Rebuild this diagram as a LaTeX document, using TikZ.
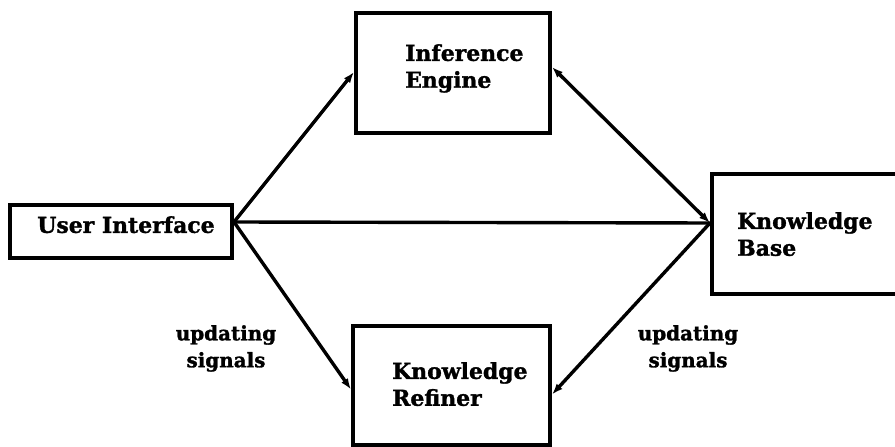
\documentclass[tikz,border=0pt]{standalone}
\usepackage{fontspec}
\setmainfont{DejaVu Serif}
\newfontfamily\heavyserif{DejaVu Serif Bold}[FakeBold=1.4]
\usetikzlibrary{arrows.meta}
\tikzset{
  unit/.style={x=1bp,y=-1bp},
  box/.style={draw=black,line width=4bp,inner sep=0pt,fill=none},
  boxtext/.style={inner sep=0pt,align=left,font=\heavyserif\fontsize{22}{27}\selectfont},
  sigtext/.style={inner sep=0pt,align=center,font=\heavyserif\fontsize{20}{27}\selectfont},
  link/.style={line width=3.4bp,line cap=round},
  tip/.style={-{Latex[length=11bp,width=8bp]}},
  twotip/.style={{Latex[length=11bp,width=8bp]}-{Latex[length=11bp,width=8bp]}},
}
\begin{document}
\begin{tikzpicture}[unit]
\useasboundingbox (0,0) rectangle (895,447);
\fill[white] (0,0) rectangle (895,447);

% component boxes
\node[box,minimum width=222bp,minimum height=53bp] (ui) at (121,231.5) {};
\node[box,minimum width=194bp,minimum height=120bp] (ie) at (453,73) {};
\node[box,minimum width=197bp,minimum height=119bp] (kr) at (451.5,385.5) {};
\node[box,minimum width=200bp,minimum height=120bp] (kb) at (812,234) {};

% box captions
\node[boxtext,anchor=north] (uiT) at (126,216) {User Interface};
\node[boxtext,anchor=north west] (ieT) at (405,44) {Inference\\Engine};
\node[boxtext,anchor=north west] (krT) at (392,362) {Knowledge\\Refiner};
\node[boxtext,anchor=north west] (kbT) at (737,212) {Knowledge\\Base};

% connection ports
\coordinate (uiP) at ([yshift=9.5bp]ui.east);
\coordinate (ieL) at ([yshift=1bp]ie.west);
\coordinate (ieR) at ([yshift=6bp]ie.east);
\coordinate (kbP) at ([yshift=11bp]kb.west);
\coordinate (krL) at ([yshift=-4bp]kr.west);
\coordinate (krR) at ([yshift=-9bp]kr.east);

% connectors
\draw[link,tip] (uiP) -- (ieL);
\draw[link,twotip] (ieR) -- (kbP);
\draw[link] (uiP) -- (kbP);
\draw[link,tip] (uiP) -- (krL);
\draw[link,tip] (kbP) -- (krR);

% signal labels
\node[sigtext,anchor=north] (sigL) at (226,325) {updating\\signals};
\node[sigtext,anchor=north] (sigR) at (688,325) {updating\\signals};
\end{tikzpicture}
\end{document}
